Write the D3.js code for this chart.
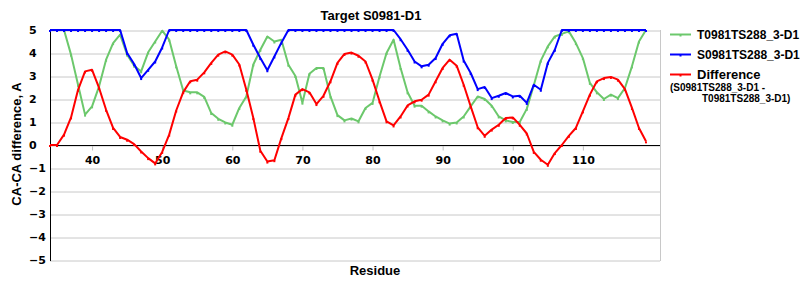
<!DOCTYPE html>
<html>
<head>
<meta charset="utf-8">
<script src="https://cdn.jsdelivr.net/npm/d3@7"></script>
<style>
  body { margin: 0; background: #fff; }
  svg { display: block; }
</style>
</head>
<body>
<main></main>
<script>
const residues = [
  34, 35, 36, 37, 38, 39, 40, 41, 42, 43, 44, 45, 46, 47, 48, 49, 50, 51, 52, 53,
  54, 55, 56, 57, 58, 59, 60, 61, 62, 63, 64, 65, 66, 67, 68, 69, 70, 71, 72, 73,
  74, 75, 76, 77, 78, 79, 80, 81, 82, 83, 84, 85, 86, 87, 88, 89, 90, 91, 92, 93,
  94, 95, 96, 97, 98, 99, 100, 101, 102, 103, 104, 105, 106, 107, 108, 109, 110,
  111, 112, 113, 114, 115, 116, 117, 118, 119,
]

// T0981TS288_3-D1 (green), capped at 5 on the plot
const tValues = [
  5, 5, 5, 3.93, 2.62, 1.32, 1.68, 2.55, 3.71, 4.43, 4.8, 3.93, 3.45, 3.2, 4.03, 4.5, 4.97, 4.58, 3.42, 2.37,
  2.29, 2.29, 2.09, 1.39, 1.14, 0.98, 0.88, 1.61, 2.11, 3.5, 4.14, 4.72, 4.5, 4.58, 3.49, 3.0, 1.84, 3.1, 3.35, 3.35,
  2.11, 1.3, 1.07, 1.15, 1.03, 1.61, 1.83, 2.98, 4.0, 4.58, 3.35, 2.29, 1.71, 1.71, 1.46, 1.24, 1.07, 0.93, 0.98, 1.24,
  1.68, 2.11, 2.0, 1.71, 1.24, 1.07, 1.0, 1.0, 1.57, 2.6, 3.67, 4.29, 4.72, 4.83, 4.94, 4.43, 3.78,
  2.7, 2.29, 2.0, 2.19, 2.04, 2.48, 3.42, 4.5, 5,
]

// S0981TS288_3-D1 (blue)
const sValues = [
  5, 5, 5, 5, 5, 5, 5, 5, 5, 5, 5, 4.0, 3.52, 2.91, 3.27, 3.63, 4.24, 5, 5, 5,
  5, 5, 5, 5, 5, 5, 5, 5, 5, 4.36, 3.78, 3.25, 3.85, 4.45, 5, 5, 5, 5, 5, 5,
  5, 5, 5, 5, 5, 5, 5, 5, 5, 5, 4.6, 4.14, 3.63, 3.42, 3.49, 3.78, 4.4, 4.77, 4.84, 3.67,
  3.13, 2.43, 2.52, 2.04, 2.14, 2.26, 2.11, 2.14, 1.83, 2.62, 2.4, 3.57, 4.14, 5, 5, 5, 5,
  5, 5, 5, 5, 5, 5, 5, 5, 5,
]

// Difference (S - T), red
const diffValues = [
  0, 0, 0.45, 1.2, 2.4, 3.2, 3.27, 2.48, 1.53, 0.74, 0.35, 0.23, 0.04, -0.28, -0.57, -0.8, -0.3, 0.45, 1.5, 2.3,
  2.77, 2.84, 3.16, 3.57, 3.93, 4.07, 3.93, 3.5, 2.4, 1.17, -0.25, -0.72, -0.66, 0.3, 1.17, 2.19, 2.43, 2.29, 1.78, 2.14,
  2.77, 3.57, 3.96, 4.02, 3.88, 3.63, 2.84, 1.9, 1.03, 0.85, 1.24, 1.72, 1.9, 1.97, 2.19, 2.77, 3.35, 3.71, 3.45, 2.62,
  1.68, 0.77, 0.4, 0.67, 0.88, 1.17, 1.2, 0.88, 0.5, -0.3, -0.64, -0.86, -0.35, 0, 0.4, 0.74, 1.46,
  2.19, 2.77, 2.91, 2.96, 2.84, 2.43, 1.61, 0.74, 0.16,
]

const xTicks = [40, 50, 60, 70, 80, 90, 100, 110]
const yTicks = [5, 4, 3, 2, 1, 0, -1, -2, -3, -4, -5]

const seriesNames = ["T0981TS288_3-D1", "S0981TS288_3-D1", "Difference"]
const seriesColors = ["#6cc86c", "#0000ff", "#ff0000"]

const w = 800
const h = 300
const plotLeft = 50
const plotRight = 660
const plotTop = 30
const plotBottom = 260

const svg = d3.select("main").append("svg").attr("width", w).attr("height", h)

const xScale = d3.scaleLinear().domain([34, 121]).range([plotLeft, plotRight])
const yScale = d3.scaleLinear().domain([-5, 5]).range([plotBottom, plotTop])

// grid lines
svg
  .append("g")
  .attr("transform", `translate(${plotLeft}, 0.5)`)
  .call(d3.axisLeft(yScale).tickValues(yTicks).tickSize(-(plotRight - plotLeft)).tickFormat(""))
  .call((g) => g.select(".domain").remove())
  .call((g) => g.selectAll("line").attr("stroke", "#c8c8c8"))

// right border
svg
  .append("line")
  .attr("x1", plotRight + 0.5)
  .attr("x2", plotRight + 0.5)
  .attr("y1", plotTop)
  .attr("y2", plotBottom + 1)
  .attr("stroke", "#c8c8c8")

// y tick labels, left aligned
svg
  .append("g")
  .selectAll("text")
  .data(yTicks)
  .enter()
  .append("text")
  .attr("x", 29)
  .attr("y", (d) => yScale(d) + 4)
  .attr("font-family", "DejaVu Sans")
  .attr("font-weight", "bold")
  .attr("font-size", 11)
  .attr("fill", "#000")
  .text((d) => (d < 0 ? "\u2212" + Math.abs(d) : d))

// x axis on zero line
const xAxis = d3.axisBottom(xScale).tickValues(xTicks).tickSize(5).tickSizeOuter(0)
svg
  .append("g")
  .attr("id", "x-axis")
  .attr("transform", `translate(0, ${yScale(0) + 0.5})`)
  .call(xAxis)
  .call((g) => g.select(".domain").remove())
  .call((g) => g.selectAll("line").attr("stroke", "#c0c0c0"))
  .call((g) =>
    g
      .selectAll("text")
      .attr("y", 18)
      .attr("dy", null)
      .attr("font-family", "DejaVu Sans")
      .attr("font-weight", "bold")
      .attr("font-size", 11)
      .attr("fill", "#000")
  )

svg
  .append("line")
  .attr("x1", plotLeft)
  .attr("x2", plotRight)
  .attr("y1", yScale(0) + 0.5)
  .attr("y2", yScale(0) + 0.5)
  .attr("stroke", "#000")

svg
  .append("line")
  .attr("x1", plotLeft + 0.5)
  .attr("x2", plotLeft + 0.5)
  .attr("y1", plotTop)
  .attr("y2", plotBottom + 1)
  .attr("stroke", "#000")

// series
const allSeries = [tValues, sValues, diffValues]
const line = d3
  .line()
  .x((d, i) => xScale(residues[i]))
  .y((d) => yScale(d))

allSeries.forEach((vals, k) => {
  svg
    .append("path")
    .datum(vals)
    .attr("fill", "none")
    .attr("stroke", seriesColors[k])
    .attr("stroke-width", 2)
    .attr("stroke-linejoin", "round")
    .attr("d", line)

  // small point markers
  svg
    .append("g")
    .selectAll("rect")
    .data(vals)
    .enter()
    .append("rect")
    .attr("x", (d, i) => xScale(residues[i]) - 1)
    .attr("y", (d) => yScale(d))
    .attr("width", 2)
    .attr("height", 2)
    .attr("fill", seriesColors[k])
})

// titles
svg
  .append("text")
  .attr("x", 371)
  .attr("y", 19.5)
  .attr("text-anchor", "middle")
  .attr("font-family", "Liberation Sans")
  .attr("font-weight", "bold")
  .attr("font-size", 13)
  .text("Target S0981-D1")

svg
  .append("text")
  .attr("x", 375)
  .attr("y", 275)
  .attr("text-anchor", "middle")
  .attr("font-family", "Liberation Sans")
  .attr("font-weight", "bold")
  .attr("font-size", 13)
  .text("Residue")

svg
  .append("text")
  .attr("transform", "translate(20.5, 144) rotate(-90)")
  .attr("text-anchor", "middle")
  .attr("font-family", "Liberation Sans")
  .attr("font-weight", "bold")
  .attr("font-size", 13)
  .text("CA-CA difference, A")

// legend
const legendY = [34.5, 54.5, 74.5]
const legend = svg
  .append("g")
  .attr("id", "legend")
  .selectAll("g")
  .data(seriesNames)
  .enter()
  .append("g")

legend
  .append("line")
  .attr("x1", 670)
  .attr("x2", 691)
  .attr("y1", (d, i) => legendY[i])
  .attr("y2", (d, i) => legendY[i])
  .attr("stroke", (d, i) => seriesColors[i])
  .attr("stroke-width", 2)

legend
  .append("rect")
  .attr("x", 679.5)
  .attr("y", (d, i) => legendY[i])
  .attr("width", 2)
  .attr("height", 2)
  .attr("fill", (d, i) => seriesColors[i])

legend
  .append("text")
  .attr("x", 697)
  .attr("y", (d, i) => legendY[i] + 4.5)
  .attr("font-family", "Liberation Sans")
  .attr("font-weight", "bold")
  .attr("font-size", (d, i) => (i === 2 ? 13 : 12))
  .text((d) => d)

svg
  .append("text")
  .attr("x", 670)
  .attr("y", 91)
  .attr("font-family", "Liberation Sans")
  .attr("font-weight", "bold")
  .attr("font-size", 10)
  .text("(S0981TS288_3-D1 -")

svg
  .append("text")
  .attr("x", 702)
  .attr("y", 101.5)
  .attr("font-family", "Liberation Sans")
  .attr("font-weight", "bold")
  .attr("font-size", 10)
  .text("T0981TS288_3-D1)")
</script>
</body>
</html>
